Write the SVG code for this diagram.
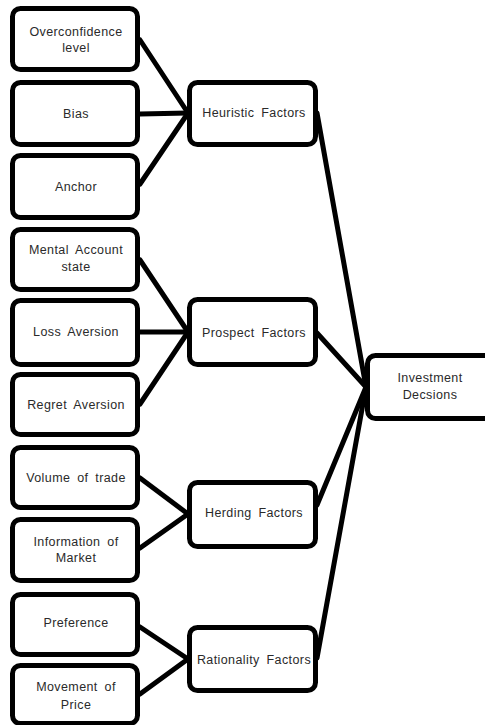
<svg xmlns="http://www.w3.org/2000/svg" width="485" height="725" viewBox="0 0 485 725">
<style>
.box{fill:#fff;stroke:#000;stroke-width:5}
.t{font-family:"Liberation Sans",Arial,sans-serif;font-size:12.5px;fill:#2a2a2a;text-anchor:middle;letter-spacing:0.4px;word-spacing:3px}
.c{stroke:#000;stroke-width:5;fill:none;stroke-linecap:round}
</style>
<rect width="485" height="725" fill="#fff"/>
<g id="connectors">
<line class="c" x1="140" y1="40" x2="188" y2="113"/>
<line class="c" x1="140" y1="114" x2="188" y2="113"/>
<line class="c" x1="140" y1="184" x2="188" y2="113"/>
<line class="c" x1="140" y1="260" x2="188" y2="332"/>
<line class="c" x1="140" y1="332" x2="188" y2="332"/>
<line class="c" x1="140" y1="404" x2="188" y2="332"/>
<line class="c" x1="140" y1="478" x2="188" y2="514"/>
<line class="c" x1="140" y1="548" x2="188" y2="514"/>
<line class="c" x1="140" y1="627" x2="188" y2="659"/>
<line class="c" x1="140" y1="694" x2="188" y2="659"/>
<line class="c" x1="317" y1="113" x2="366" y2="387"/>
<line class="c" x1="317" y1="333" x2="366" y2="387"/>
<line class="c" x1="317" y1="505" x2="366" y2="387"/>
<line class="c" x1="317" y1="658" x2="366" y2="387"/>
</g>
<g id="n1"><rect class="box" x="12.5" y="8.5" width="125" height="61" rx="8"/><text class="t" x="76" y="36">Overconfidence</text><text class="t" x="76" y="52">level</text></g>
<g id="n2"><rect class="box" x="12.5" y="82.5" width="125" height="62" rx="8"/><text class="t" x="76" y="118">Bias</text></g>
<g id="n3"><rect class="box" x="12.5" y="155.5" width="125" height="62" rx="8"/><text class="t" x="76" y="191">Anchor</text></g>
<g id="n4"><rect class="box" x="12.5" y="229.5" width="125" height="60" rx="8"/><text class="t" x="76" y="254">Mental Account</text><text class="t" x="76" y="271">state</text></g>
<g id="n5"><rect class="box" x="12.5" y="300.5" width="125" height="64" rx="8"/><text class="t" x="76" y="336">Loss Aversion</text></g>
<g id="n6"><rect class="box" x="12.5" y="374.5" width="125" height="60" rx="8"/><text class="t" x="76" y="409">Regret Aversion</text></g>
<g id="n7"><rect class="box" x="12.5" y="447.5" width="125" height="60" rx="8"/><text class="t" x="76" y="482">Volume of trade</text></g>
<g id="n8"><rect class="box" x="12.5" y="519.5" width="125" height="61" rx="8"/><text class="t" x="76" y="546">Information of</text><text class="t" x="76" y="562">Market</text></g>
<g id="n9"><rect class="box" x="12.5" y="594.5" width="125" height="60" rx="8"/><text class="t" x="76" y="627">Preference</text></g>
<g id="n10"><rect class="box" x="12.5" y="665.5" width="125" height="58" rx="8"/><text class="t" x="76" y="691">Movement of</text><text class="t" x="76" y="709">Price</text></g>
<g id="h"><rect class="box" x="189.5" y="82.5" width="126" height="62" rx="8"/><text class="t" x="254" y="117">Heuristic Factors</text></g>
<g id="p"><rect class="box" x="189.5" y="299.5" width="126" height="65" rx="8"/><text class="t" x="254" y="337">Prospect Factors</text></g>
<g id="hf"><rect class="box" x="189.5" y="482.5" width="126" height="64" rx="8"/><text class="t" x="254" y="517">Herding Factors</text></g>
<g id="r"><rect class="box" x="189.5" y="627.5" width="126" height="63" rx="8"/><text class="t" x="254" y="664">Rationality Factors</text></g>
<g id="inv"><rect class="box" x="367.5" y="355.5" width="130" height="63" rx="8"/><text class="t" x="430" y="382">Investment</text><text class="t" x="430" y="399">Decsions</text></g>
</svg>
